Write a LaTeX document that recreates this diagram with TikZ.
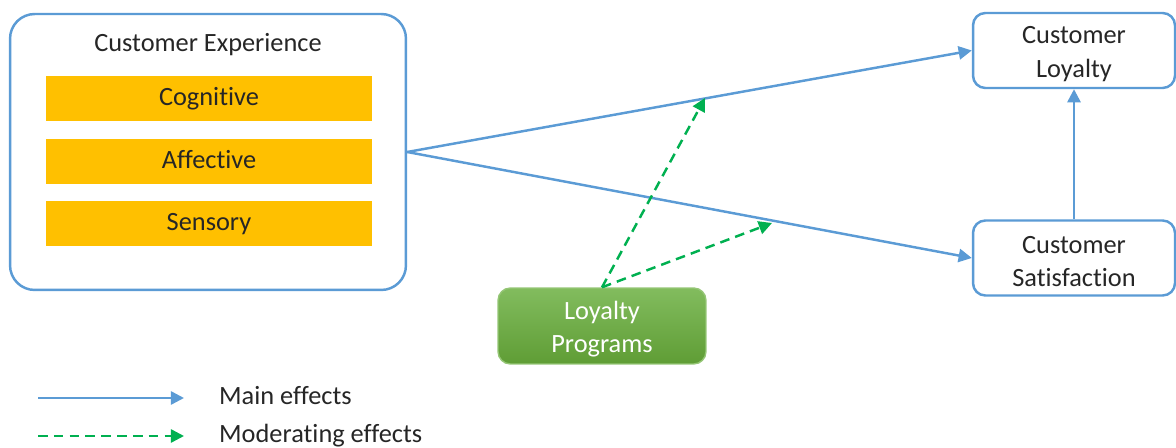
\documentclass[tikz,border=0pt]{standalone}
\usepackage{fontspec}
\setmainfont{Carlito}[Ligatures=NoCommon]
\usetikzlibrary{arrows.meta}
\definecolor{effblue}{HTML}{5B9BD5}
\definecolor{barorange}{HTML}{FFC000}
\definecolor{modgreen}{HTML}{00B050}
\definecolor{lptop}{HTML}{82BC5E}
\definecolor{lpbot}{HTML}{5F9D35}
\definecolor{txt}{HTML}{262626}
\begin{document}
\begin{tikzpicture}[x=0.02cm,y=-0.02cm,font=\fontsize{15}{19}\selectfont,text=txt,
  box/.style={draw=effblue,line width=1.4pt,rounded corners=7pt,fill=white,
    minimum width=4.04cm,minimum height=1.5cm,align=center,inner sep=0pt},
  bar/.style={fill=barorange,minimum width=6.52cm,minimum height=0.9cm,inner sep=0pt,
    text height=0.98em,text depth=0.14em},
  legtext/.style={anchor=west,text height=0.92em,text depth=0.2em},
  main/.style={draw=effblue,line width=1.4pt,-{Triangle[length=7.5pt,width=7.5pt]}},
  moder/.style={draw=modgreen,line width=1.4pt,dash pattern=on 5.5pt off 3.5pt,
    -{Triangle[length=7.5pt,width=7.5pt]}}]
\useasboundingbox (0,0) rectangle (1176,448);
	\node[box,rounded corners=14pt,minimum width=7.92cm,minimum height=5.52cm] (ce) at (208,152) {};
	\node (cetitle) at (208,45) {Customer Experience};
	\node[bar] (cog) at (209,98.5) {Cognitive};
	\node[bar] (aff) at (209,161.5) {Affective};
	\node[bar] (sen) at (209,223.5) {Sensory};
	\node[box] (loyalty) at (1074,50.5) {\rule{0pt}{14pt}Customer\\Loyalty};
	\node[box] (satisf) at (1074,258) {\rule{0pt}{14pt}Customer\\Satisfaction};
	\node[box,draw=lptop!85!white,line width=0.8pt,top color=lptop,bottom color=lpbot,
	  text=white,minimum width=4.16cm,minimum height=1.52cm] (lp) at (602,326) {\rule{0pt}{14pt}Loyalty\\Programs};
	\draw[main] (ce.east) -- (loyalty.west);
	\draw[main] (ce.east) -- (satisf.west);
	\draw[main] (satisf.north) -- (loyalty.south);
	\coordinate (m1) at (705,98);
	\coordinate (m2) at (772,223);
	\draw[moder] (lp.north) -- (m1);
	\draw[moder] (lp.north) -- (m2);
	\coordinate (l1) at (38,398); \coordinate (l2) at (184,398);
	\coordinate (l3) at (38,436); \coordinate (l4) at (184,436);
	\draw[main] (l1) -- (l2);
	\draw[moder] (l3) -- (l4);
	\node[legtext] (mainlbl) at (213,398) {Main effects};
	\node[legtext] (modlbl) at (213,436) {Moderating effects};
      \end{tikzpicture}
\end{document}
